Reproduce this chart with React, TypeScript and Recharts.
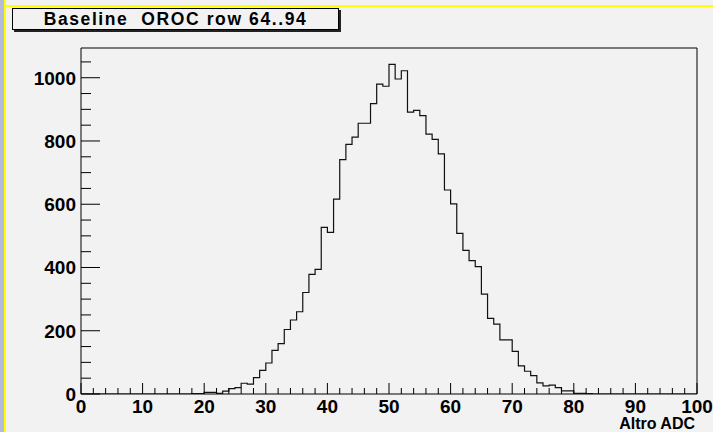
import React from 'react';
import { LineChart, Line, XAxis, YAxis, ReferenceArea } from 'recharts';

// bin contents, one per ADC bin 0..99 (bin i covers [i, i+1))
const counts: number[] = [
    0, 0, 0, 0, 0, 0, 0, 0, 0, 0,
    0, 0, 0, 0, 0, 0, 0, 0, 1, 1,
    5, 5, 2, 9, 17, 20, 34, 31, 52, 75,
    98, 138, 159, 204, 234, 260, 321, 378, 394, 527,
    511, 616, 741, 789, 812, 856, 856, 918, 980, 973,
    1042, 996, 1022, 891, 897, 880, 822, 805, 759, 645,
    601, 508, 454, 422, 403, 316, 239, 221, 171, 171,
    135, 89, 72, 58, 35, 26, 28, 20, 10, 10,
    2, 2, 1, 0, 0, 0, 0, 0, 0, 0,
    0, 0, 0, 0, 0, 0, 0, 0, 0, 0,
];

const xTicks: number[] = Array.from({ length: 51 }, (_, i) => i * 2);
const yTicks: number[] = Array.from({ length: 22 }, (_, i) => i * 50);
const yMax = 1094;

const title = 'Baseline  OROC row 64..94';
const xTitle = 'Altro ADC';

const font = '"Liberation Sans", Arial, Helvetica, sans-serif';

const data = [...counts.map((c, i) => ({ adc: i, count: c })), { adc: 100, count: 0 }];

const XTick = (props: any) => {
    const { x, y, payload } = props;
    const major = payload.value % 10 === 0;
    return (
        <g>
            <line x1={x} x2={x} y1={y} y2={y - (major ? 11 : 6)} stroke="#000" />
            {major && (
                <text x={x} y={y + 19} textAnchor="middle" fontFamily={font} fontWeight="bold" fontSize={19} fill="#000">
                    {payload.value}
                </text>
            )}
        </g>
    );
};

const YTick = (props: any) => {
    const { x, y, payload } = props;
    const major = payload.value % 200 === 0;
    return (
        <g>
            <line x1={x} x2={x + (major ? 19 : 10)} y1={y} y2={y} stroke="#000" />
            {major && (
                <text x={x - 5} y={y + 7} textAnchor="end" fontFamily={font} fontWeight="bold" fontSize={19} fill="#000">
                    {payload.value}
                </text>
            )}
        </g>
    );
};

export default function App() {
    return (
        <div style={{ position: 'absolute', left: 0, top: 0, width: 713, height: 432, background: '#f2f2f2', overflow: 'hidden' }}>
            {/* pad decoration */}
            <div style={{ position: 'absolute', left: 0, top: 0, width: 4, height: 432, background: '#b7bbdb' }} />
            <div style={{ position: 'absolute', left: 4, top: 0, width: 2, height: 432, background: '#ffff00' }} />
            <div style={{ position: 'absolute', left: 4, top: 5, width: 709, height: 2, background: '#ffff00' }} />

            <LineChart width={713} height={432} data={data} margin={{ top: 48, right: 16, bottom: 8, left: 0 }}
                style={{ position: 'absolute', left: 0, top: 0 }}>
                <XAxis dataKey="adc" type="number" domain={[0, 100]} ticks={xTicks} interval={0}
                    axisLine={false} tickLine={false} tickSize={0} tickMargin={0} height={30} tick={<XTick />} />
                <YAxis type="number" domain={[0, yMax]} ticks={yTicks} interval={0} allowDataOverflow
                    axisLine={false} tickLine={false} tickSize={0} tickMargin={0} width={81} tick={<YTick />} />
                <ReferenceArea x1={0} x2={100} y1={0} y2={yMax} fill="none" stroke="#000" strokeWidth={1} />
                <Line type="stepAfter" dataKey="count" stroke="#111" strokeWidth={1.2} dot={false} isAnimationActive={false} />
            </LineChart>

            <div style={{
                position: 'absolute', left: 12, top: 8, width: 325, height: 20, border: '1px solid #000',
                boxShadow: '2px 2px 0 #222', background: '#f2f2f2', fontFamily: font, fontWeight: 'bold',
                fontSize: 17.5, letterSpacing: 1.6, whiteSpace: 'pre', textAlign: 'center', lineHeight: '20px', color: '#000',
            }}>{title}</div>

            <div style={{
                position: 'absolute', right: 18, top: 417, fontFamily: font, fontWeight: 'bold', fontSize: 16,
                lineHeight: '14px', color: '#000',
            }}>{xTitle}</div>
        </div>
    );
}
